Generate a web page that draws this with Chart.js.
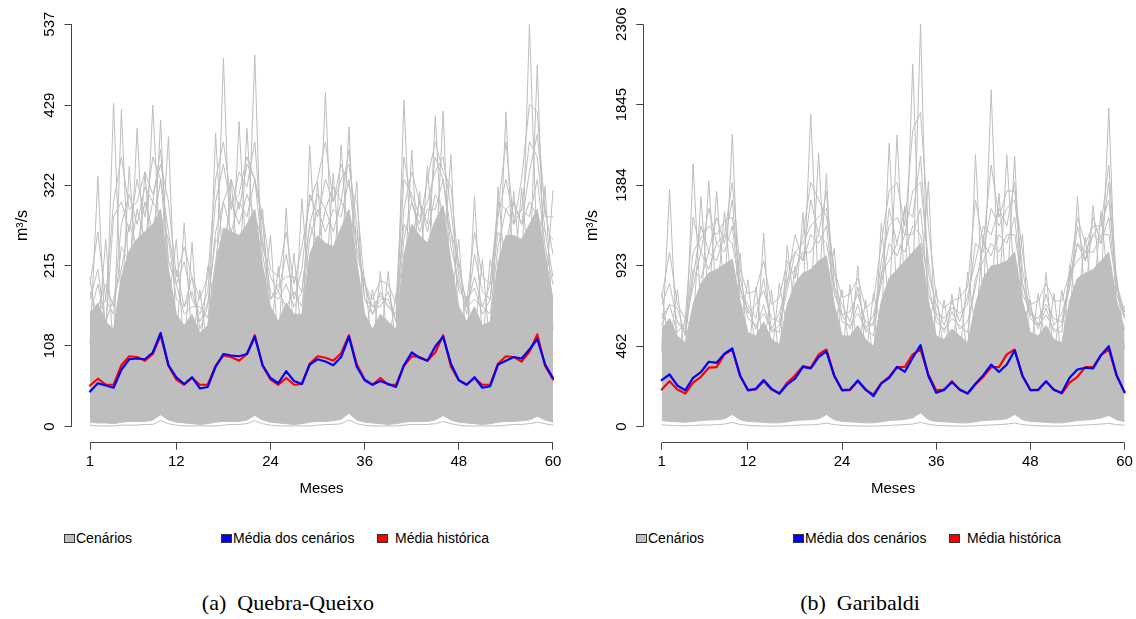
<!DOCTYPE html>
<html>
<head>
<meta charset="utf-8">
<script src="https://cdn.jsdelivr.net/npm/chart.js@4.4.0/dist/chart.umd.min.js"></script>
<style>
body { margin: 0; width: 1136px; height: 619px; overflow: hidden; background: #fff; position: relative; font-family: "Liberation Sans", Arial, sans-serif; }
canvas { position: absolute; top: 0; }
.caixa { position: absolute; top: 534px; width: 9px; height: 7px; border: 1px solid #333; }
.txt { position: absolute; top: 530px; font-size: 14px; line-height: 16px; color: #000; white-space: nowrap; }
.rotulo { position: absolute; top: 590px; font-family: "Liberation Serif", "Times New Roman", serif; font-size: 22px; line-height: 26px; color: #000; white-space: nowrap; transform: translateX(-50%); }
</style>
</head>
<body>
<canvas id="graficoQQ" width="575" height="500" style="left:0px"></canvas>
<canvas id="graficoGB" width="576" height="500" style="left:570px"></canvas>

<!-- legendas -->
<div class="caixa" style="left:64px;background:#BEBEBE"></div><div class="txt" style="left:76px">Cenários</div>
<div class="caixa" style="left:221px;background:#0000FF"></div><div class="txt" style="left:233px">Média dos cenários</div>
<div class="caixa" style="left:377px;background:#FF0000"></div><div class="txt" style="left:395px">Média histórica</div>

<div class="caixa" style="left:636px;background:#BEBEBE"></div><div class="txt" style="left:648px">Cenários</div>
<div class="caixa" style="left:793px;background:#0000FF"></div><div class="txt" style="left:805px">Média dos cenários</div>
<div class="caixa" style="left:949px;background:#FF0000"></div><div class="txt" style="left:967px">Média histórica</div>

<div class="rotulo" style="left:288px">(a)&nbsp; Quebra-Queixo</div>
<div class="rotulo" style="left:860px">(b)&nbsp; Garibaldi</div>

<script>
// meses 1..60
const meses = Array.from({ length: 60 }, (_, i) => i + 1);
const ticksX = [1, 12, 24, 36, 48, 60];

// ---- Quebra-Queixo ----
const qqTicksY = [0, 108, 215, 322, 429, 537];
const qqMediaCenarios = [47, 58, 55, 52, 76, 90, 91, 90, 99, 125, 82, 66, 57, 66, 51, 53, 80, 97, 95, 94, 97, 120, 82, 65, 58, 74, 61, 57, 83, 90, 87, 82, 93, 120, 80, 62, 56, 61, 57, 53, 82, 99, 92, 88, 107, 120, 84, 62, 56, 66, 52, 54, 83, 88, 93, 91, 103, 117, 83, 65];
const qqMediaHistorica = [55, 64, 56, 56, 82, 94, 93, 88, 97, 122, 81, 63, 56, 65, 56, 56, 81, 95, 93, 88, 97, 122, 81, 63, 56, 65, 56, 57, 84, 94, 92, 88, 98, 122, 83, 63, 56, 65, 56, 56, 81, 94, 93, 88, 99, 122, 80, 62, 56, 65, 56, 56, 84, 94, 93, 87, 100, 123, 81, 63];
// envoltorias e alguns cenarios
const qqSup = [150, 165, 140, 130, 200, 235, 250, 260, 270, 290, 210, 150, 135, 150, 125, 135, 215, 265, 260, 255, 270, 290, 215, 160, 140, 165, 150, 150, 230, 255, 245, 240, 265, 290, 220, 150, 130, 150, 140, 130, 230, 270, 255, 245, 275, 295, 220, 160, 140, 160, 135, 140, 220, 255, 255, 250, 270, 290, 230, 170];
const qqInf = [6, 5, 5, 4, 6, 7, 7, 7, 9, 16, 9, 6, 5, 4, 3, 4, 6, 7, 7, 7, 9, 15, 9, 6, 5, 4, 3, 4, 6, 7, 7, 8, 10, 18, 9, 6, 5, 4, 3, 4, 6, 7, 7, 7, 9, 15, 9, 6, 5, 4, 3, 4, 6, 7, 7, 8, 9, 14, 9, 6];
const qqMin = [2, 1, 1, 1, 2, 2, 2, 3, 3, 8, 4, 2, 1, 1, 1, 1, 1, 2, 3, 3, 4, 8, 4, 2, 1, 1, 1, 1, 1, 2, 3, 3, 4, 9, 4, 2, 1, 1, 1, 1, 2, 3, 3, 3, 4, 7, 4, 2, 1, 1, 1, 1, 1, 2, 3, 3, 4, 6, 4, 2];
const qqBorda1 = [180, 150, 170, 150, 240, 220, 290, 250, 300, 280, 250, 170, 160, 180, 140, 165, 250, 240, 300, 270, 310, 280, 250, 180, 170, 190, 160, 180, 270, 240, 290, 260, 300, 280, 260, 170, 160, 175, 160, 150, 270, 250, 300, 260, 310, 290, 260, 180, 170, 185, 150, 170, 260, 240, 300, 270, 300, 280, 260, 200];
const qqBorda2 = [150, 190, 140, 170, 210, 270, 240, 300, 260, 330, 220, 190, 150, 160, 160, 145, 220, 300, 260, 300, 280, 330, 230, 170, 180, 160, 180, 160, 250, 290, 260, 290, 280, 330, 230, 190, 150, 170, 170, 140, 250, 300, 260, 290, 290, 330, 240, 190, 160, 170, 160, 150, 240, 290, 270, 290, 280, 330, 240, 190];
const qqPicoA = [200, 120, 250, 100, 423, 180, 398, 200, 429, 220, 387, 110, 272, 110, 183, 100, 392, 200, 330, 190, 398, 220, 290, 120, 214, 120, 232, 110, 375, 190, 446, 180, 376, 220, 327, 110, 183, 110, 207, 100, 436, 200, 314, 180, 415, 220, 363, 120, 174, 120, 223, 100, 320, 190, 314, 190, 537, 220, 321, 130];
const qqPicoB = [110, 334, 105, 432, 150, 347, 190, 340, 200, 409, 160, 250, 100, 246, 95, 214, 160, 492, 195, 407, 200, 496, 160, 256, 105, 292, 110, 304, 170, 326, 185, 338, 200, 400, 165, 199, 100, 207, 105, 178, 170, 369, 190, 348, 205, 421, 165, 250, 105, 308, 110, 223, 165, 420, 190, 318, 200, 483, 170, 315];
const qqMeio1 = [170, 210, 130, 280, 300, 260, 330, 280, 360, 330, 260, 190, 220, 170, 150, 180, 300, 350, 290, 340, 320, 380, 240, 200, 180, 230, 170, 210, 310, 280, 330, 300, 330, 350, 270, 170, 150, 180, 160, 150, 330, 310, 280, 300, 340, 360, 290, 200, 150, 230, 180, 170, 280, 330, 280, 290, 380, 360, 260, 250];
const qqMeio2 = [140, 160, 190, 160, 270, 310, 270, 320, 300, 370, 220, 210, 160, 200, 130, 160, 260, 300, 330, 290, 350, 330, 270, 170, 190, 200, 200, 180, 270, 310, 290, 320, 300, 370, 240, 190, 160, 160, 180, 140, 290, 340, 300, 270, 360, 330, 260, 220, 160, 200, 160, 190, 300, 290, 300, 270, 340, 390, 290, 230];
const qqMeio3 = [190, 260, 170, 300, 360, 290, 300, 340, 310, 350, 300, 200, 240, 200, 170, 200, 330, 380, 300, 310, 360, 330, 280, 210, 200, 260, 190, 240, 300, 330, 380, 300, 350, 320, 300, 190, 170, 195, 190, 165, 360, 300, 270, 330, 380, 340, 320, 210, 165, 260, 200, 190, 290, 380, 270, 330, 430, 420, 280, 280];

// ---- Garibaldi ----
const gbTicksY = [0, 462, 923, 1384, 1845, 2306];
const gbMediaCenarios = [267, 299, 236, 208, 280, 313, 372, 366, 418, 448, 290, 210, 217, 267, 217, 190, 242, 275, 343, 334, 398, 432, 290, 210, 213, 265, 213, 175, 248, 280, 343, 315, 395, 467, 290, 194, 210, 255, 213, 190, 246, 295, 356, 313, 356, 437, 290, 210, 210, 261, 210, 194, 280, 328, 338, 334, 410, 461, 293, 198];
const gbMediaHistorica = [213, 261, 213, 190, 252, 286, 338, 341, 414, 442, 293, 208, 213, 261, 213, 190, 252, 293, 347, 338, 414, 442, 293, 208, 210, 261, 210, 185, 250, 286, 341, 343, 414, 442, 299, 208, 213, 261, 210, 190, 242, 286, 341, 341, 414, 442, 290, 210, 213, 258, 213, 190, 252, 286, 341, 341, 410, 442, 293, 198];
const gbSup = [560, 620, 520, 480, 700, 820, 880, 900, 930, 960, 720, 540, 520, 600, 500, 470, 700, 820, 880, 900, 950, 980, 700, 520, 520, 580, 500, 460, 720, 850, 900, 950, 1000, 1050, 720, 520, 500, 560, 520, 480, 700, 850, 920, 930, 950, 1000, 720, 540, 520, 580, 500, 480, 720, 850, 880, 900, 950, 1000, 720, 560];
const gbInf = [35, 30, 28, 25, 30, 35, 38, 40, 45, 70, 40, 30, 28, 25, 22, 22, 28, 35, 38, 40, 45, 70, 40, 30, 28, 25, 22, 22, 28, 35, 38, 42, 50, 80, 40, 30, 28, 25, 22, 22, 28, 35, 38, 40, 45, 70, 40, 30, 28, 25, 22, 22, 28, 35, 38, 42, 50, 65, 40, 30];
const gbMin = [10, 8, 6, 5, 7, 9, 10, 12, 15, 25, 12, 8, 5, 4, 3, 3, 5, 8, 10, 11, 14, 20, 12, 8, 5, 4, 3, 3, 5, 7, 10, 12, 15, 25, 14, 8, 6, 4, 3, 3, 5, 8, 10, 12, 15, 21, 12, 8, 5, 4, 3, 3, 5, 8, 10, 12, 15, 19, 12, 8];
const gbBorda1 = [650, 560, 600, 540, 900, 850, 1000, 950, 1100, 1050, 800, 620, 580, 650, 560, 540, 850, 900, 1000, 1000, 1100, 1050, 800, 600, 580, 650, 560, 520, 880, 950, 1050, 1000, 1150, 1100, 820, 600, 560, 620, 580, 540, 850, 950, 1050, 1000, 1100, 1100, 820, 620, 580, 640, 560, 540, 880, 950, 1000, 1000, 1100, 1100, 800, 640];
const gbBorda2 = [580, 700, 540, 600, 800, 1000, 900, 1050, 1000, 1150, 750, 680, 560, 700, 540, 580, 780, 1000, 950, 1100, 1050, 1150, 760, 640, 560, 700, 540, 600, 820, 1050, 980, 1100, 1100, 1250, 760, 640, 540, 660, 560, 600, 800, 1050, 980, 1100, 1050, 1200, 760, 660, 560, 680, 540, 580, 800, 1050, 950, 1100, 1050, 1200, 760, 620];
const gbPicoA = [765, 450, 785, 380, 1506, 650, 1409, 700, 1233, 750, 995, 400, 800, 450, 785, 380, 1037, 650, 1227, 700, 1567, 750, 1023, 400, 813, 420, 727, 370, 1166, 680, 1672, 750, 2077, 800, 1405, 400, 727, 420, 800, 380, 1558, 680, 1930, 720, 1558, 780, 1100, 420, 765, 430, 765, 380, 924, 680, 1086, 700, 1233, 780, 865, 450];
const gbPicoB = [430, 1361, 400, 620, 560, 1319, 700, 1348, 730, 1676, 560, 842, 400, 1109, 380, 823, 560, 918, 700, 1791, 760, 1449, 560, 785, 400, 922, 390, 765, 570, 1624, 720, 1266, 800, 2306, 570, 785, 400, 760, 400, 884, 560, 1100, 740, 1338, 760, 1552, 570, 727, 400, 884, 390, 780, 570, 1319, 700, 1268, 760, 1825, 570, 690];
const gbMeio1 = [700, 820, 600, 560, 1000, 1080, 1150, 1100, 1180, 1200, 850, 650, 700, 780, 620, 600, 900, 1000, 1050, 1150, 1200, 1250, 880, 640, 660, 760, 600, 580, 950, 1150, 1200, 1100, 1350, 1400, 950, 650, 620, 680, 650, 700, 1050, 1000, 1250, 1150, 1250, 1300, 900, 640, 620, 700, 620, 600, 850, 1050, 1000, 1100, 1150, 1300, 820, 620];
const gbMeio2 = [620, 700, 680, 520, 850, 1150, 1000, 1200, 1050, 1300, 780, 700, 620, 850, 560, 650, 820, 1100, 950, 1300, 1100, 1350, 800, 700, 600, 800, 560, 640, 850, 1250, 1050, 1250, 1200, 1550, 880, 700, 580, 720, 600, 750, 950, 1150, 1100, 1250, 1150, 1400, 820, 680, 580, 760, 580, 650, 800, 1150, 950, 1200, 1050, 1400, 760, 660];
const gbMeio3 = [740, 1000, 700, 620, 1200, 1000, 1250, 1050, 1100, 1400, 900, 760, 780, 950, 700, 740, 950, 850, 1100, 1400, 1300, 1200, 900, 740, 760, 850, 680, 720, 1050, 1350, 1400, 1150, 1700, 1800, 1150, 740, 680, 720, 740, 800, 1300, 1050, 1500, 1200, 1350, 1350, 1000, 700, 720, 820, 720, 720, 880, 1200, 1050, 1150, 1150, 1500, 820, 660];

const CINZA = '#BEBEBE';
const FONTE = '"Liberation Sans", Arial, sans-serif';

function pontos(arr) {
    return arr.map((v, i) => ({ x: meses[i], y: v }));
}

function linhaCinza(arr, extra) {
    return Object.assign({
        data: pontos(arr),
        borderColor: CINZA,
        borderWidth: 1,
        pointRadius: 0,
        fill: false,
        order: 5
    }, extra || {});
}

// eixos no estilo do R: linha so entre o primeiro e o ultimo tick, rotulos do y girados
const eixosR = {
    id: 'eixosR',
    afterDraw(chart, args, opts) {
        const { ctx, chartArea, scales } = chart;
        const x = scales.x, y = scales.y;
        const tY = opts.ticksY;
        const xl = Math.round(chartArea.left - 0.5) + 0.5;
        const yb = Math.round(chartArea.bottom - 0.5) + 0.5;
        ctx.save();
        ctx.strokeStyle = '#444';
        ctx.lineWidth = 1;
        ctx.beginPath();
        ctx.moveTo(xl, y.getPixelForValue(tY[0]));
        ctx.lineTo(xl, y.getPixelForValue(tY[tY.length - 1]));
        ctx.moveTo(x.getPixelForValue(ticksX[0]), yb);
        ctx.lineTo(x.getPixelForValue(ticksX[ticksX.length - 1]), yb);
        ctx.stroke();

        ctx.fillStyle = '#000';
        ctx.font = '15px ' + FONTE;
        ctx.textAlign = 'center';
        ctx.textBaseline = 'middle';
        tY.forEach(v => {
            ctx.save();
            ctx.translate(chartArea.left - 21.5, y.getPixelForValue(v));
            ctx.rotate(-Math.PI / 2);
            ctx.fillText(String(v), 0, 0);
            ctx.restore();
        });
        ctx.restore();
    }
};

function criarGrafico(id, s, ticksY, larguraY, padDireita) {
    const yMax = ticksY[ticksY.length - 1];
    const ctx = document.getElementById(id).getContext('2d');
    const cinzas = [s.min, s.borda1, s.borda2, s.meio1, s.meio2, s.meio3, s.picoA, s.picoB].map(a => linhaCinza(a));
    return new Chart(ctx, {
        type: 'line',
        data: {
            datasets: [
                { label: 'Média dos cenários', data: pontos(s.media), borderColor: '#0000FF', borderWidth: 2.2, pointRadius: 0, fill: false, order: 0 },
                { label: 'Média histórica', data: pontos(s.hist), borderColor: '#FF0000', borderWidth: 2.2, pointRadius: 0, fill: false, order: 1 },
                linhaCinza(s.sup, { fill: '+1', backgroundColor: CINZA, order: 6 }),
                linhaCinza(s.inf, { order: 6 })
            ].concat(cinzas)
        },
        options: {
            responsive: false,
            devicePixelRatio: 1,
            animation: false,
            events: [],
            layout: { padding: { left: 0, top: 8.1, right: padDireita, bottom: 0 } },
            elements: { line: { tension: 0, borderJoinStyle: 'round', borderCapStyle: 'round' } },
            plugins: {
                legend: { display: false },
                tooltip: { enabled: false },
                eixosR: { ticksY: ticksY }
            },
            scales: {
                x: {
                    type: 'linear',
                    min: 1 - 0.04 * 59,
                    max: 60 + 0.04 * 59,
                    afterBuildTicks: sc => { sc.ticks = ticksX.map(v => ({ value: v })); },
                    afterFit: sc => { sc.height = 500 - 442.8; },
                    ticks: { color: '#000', font: { family: FONTE, size: 15 }, padding: 3, maxRotation: 0, autoSkip: false, callback: v => String(v) },
                    grid: { display: true, drawOnChartArea: false, drawTicks: true, tickLength: 7, color: '#444', lineWidth: 1 },
                    border: { display: false },
                    title: { display: true, text: 'Meses', color: '#000', font: { family: FONTE, size: 15 }, padding: { top: 0, bottom: 2 } }
                },
                y: {
                    type: 'linear',
                    min: -0.04 * yMax,
                    max: yMax * 1.04,
                    afterBuildTicks: sc => { sc.ticks = ticksY.map(v => ({ value: v })); },
                    afterFit: sc => { sc.width = larguraY; },
                    ticks: { display: false },
                    grid: { display: true, drawOnChartArea: false, drawTicks: true, tickLength: 7, color: '#444', lineWidth: 1 },
                    border: { display: false },
                    title: { display: true, text: 'm³/s', color: '#000', font: { family: FONTE, size: 16 }, padding: { top: 13, bottom: 0 } }
                }
            }
        },
        plugins: [eixosR]
    });
}

criarGrafico('graficoQQ', {
    media: qqMediaCenarios, hist: qqMediaHistorica, sup: qqSup, inf: qqInf, min: qqMin,
    borda1: qqBorda1, borda2: qqBorda2, meio1: qqMeio1, meio2: qqMeio2, meio3: qqMeio3,
    picoA: qqPicoA, picoB: qqPicoB
}, qqTicksY, 71.5, 3.5);

criarGrafico('graficoGB', {
    media: gbMediaCenarios, hist: gbMediaHistorica, sup: gbSup, inf: gbInf, min: gbMin,
    borda1: gbBorda1, borda2: gbBorda2, meio1: gbMeio1, meio2: gbMeio2, meio3: gbMeio3,
    picoA: gbPicoA, picoB: gbPicoB
}, gbTicksY, 73.2, 3);
</script>
</body>
</html>
